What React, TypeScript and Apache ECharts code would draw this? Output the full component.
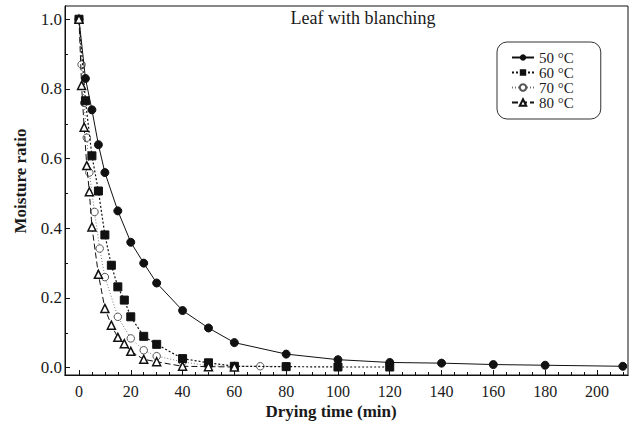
import React, { useEffect, useRef } from "react";
import * as echarts from "echarts";

const FONT = '"Liberation Serif", "Times New Roman", serif';

const seriesNames = ["50 °C", "60 °C", "70 °C", "80 °C"];

const times50 = [0, 2.5, 5, 7.5, 10, 15, 20, 25, 30, 40, 50, 60, 80, 100, 120, 140, 160, 180, 210];
const mr50 = [1.0, 0.83, 0.74, 0.64, 0.56, 0.45, 0.36, 0.3, 0.243, 0.164, 0.114, 0.072, 0.039, 0.023, 0.015, 0.013, 0.009, 0.007, 0.004];

const times60 = [0, 2.5, 5, 7.5, 10, 12.5, 15, 17.5, 20, 25, 30, 40, 50, 60, 80, 100, 120];
const mr60 = [1.0, 0.766, 0.608, 0.507, 0.381, 0.294, 0.232, 0.194, 0.146, 0.09, 0.067, 0.026, 0.014, 0.004, 0.003, 0.002, 0.002];

const times70 = [0, 1, 2, 3, 4, 6, 8, 10, 15, 20, 25, 30, 40, 50, 60, 70, 80];
const mr70 = [1.0, 0.87, 0.76, 0.66, 0.56, 0.447, 0.342, 0.26, 0.146, 0.084, 0.05, 0.033, 0.017, 0.005, 0.004, 0.004, 0.004];

const times80 = [0, 1, 2, 3, 4, 5, 7.5, 10, 12.5, 15, 17.5, 20, 25, 30, 40, 50, 60];
const mr80 = [1.0, 0.81, 0.69, 0.58, 0.505, 0.404, 0.268, 0.17, 0.122, 0.087, 0.069, 0.047, 0.024, 0.017, 0.004, 0.003, 0.002];

const xMajorTicks = [0, 20, 40, 60, 80, 100, 120, 140, 160, 180, 200];
const xMinorTicks = [5, 10, 15, 25, 30, 35, 45, 50, 55, 65, 70, 75, 85, 90, 95, 105, 110, 115, 125, 130, 135, 145, 150, 155, 165, 170, 175, 185, 190, 195, 205, 210];
const yMajorTicks = [0, 0.2, 0.4, 0.6, 0.8, 1.0];
const yMinorTicks = [0.1, 0.3, 0.5, 0.7, 0.9];

const titleText = "Leaf with blanching";
const xTitle = "Drying time (min)";
const yTitle = "Moisture ratio";

const zip = (t: number[], v: number[]) => t.map((x, i) => [x, v[i]]);

export default function App() {
  const ref = useRef<HTMLDivElement>(null);
  useEffect(() => {
    if (!ref.current) return;
    const chart = echarts.init(ref.current, undefined, { renderer: "svg" });
    const X_MIN = -5.4, X_MAX = 212, Y_MIN = -0.021, Y_MAX = 1.038;
    const axisCommon = {
      type: "value" as const,
      axisLine: { show: true, onZero: false, lineStyle: { color: "#111", width: 1 } },
      splitLine: { show: false },
    };
    chart.setOption({
      animation: false,
      backgroundColor: "#fff",
      textStyle: { fontFamily: FONT },
      grid: {
        left: 65, right: 2, top: 6, bottom: 46,
        show: true, borderColor: "#111", borderWidth: 1,
        containLabel: false, outerBoundsMode: "none",
      },
      xAxis: [
        {
          ...axisCommon, min: X_MIN, max: X_MAX, position: "bottom",
          axisTick: { show: true, inside: true, length: 5, customValues: xMajorTicks, lineStyle: { color: "#111" } },
          axisLabel: { show: true, customValues: xMajorTicks, margin: 8, color: "#1a1a1a", fontSize: 16, fontFamily: FONT, formatter: (v: number) => String(Math.round(v)) },
        },
        {
          ...axisCommon, min: X_MIN, max: X_MAX, position: "bottom",
          axisTick: { show: true, inside: true, length: 3, customValues: xMinorTicks, lineStyle: { color: "#111" } },
          axisLabel: { show: false },
        },
      ],
      yAxis: [
        {
          ...axisCommon, min: Y_MIN, max: Y_MAX, position: "left",
          axisTick: { show: true, inside: true, length: 5, customValues: yMajorTicks, lineStyle: { color: "#111" } },
          axisLabel: { show: true, customValues: yMajorTicks, margin: 3, color: "#1a1a1a", fontSize: 17, fontFamily: FONT, formatter: (v: number) => v.toFixed(1) },
        },
        {
          ...axisCommon, min: Y_MIN, max: Y_MAX, position: "left",
          axisTick: { show: true, inside: true, length: 3, customValues: yMinorTicks, lineStyle: { color: "#111" } },
          axisLabel: { show: false },
        },
      ],
      legend: {
        orient: "vertical",
        left: 497, top: 42,
        backgroundColor: "#fff",
        borderColor: "#333", borderWidth: 1, borderRadius: 10,
        padding: [8, 27, 9, 14],
        itemGap: 0, itemWidth: 22, itemHeight: 8,
        textStyle: { fontFamily: FONT, fontSize: 15, color: "#1a1a1a", lineHeight: 14 },
        data: seriesNames,
      },
      graphic: [
        { type: "text", x: 363, y: 18, style: { text: titleText, font: `18px ${FONT}`, fill: "#1a1a1a", align: "center", verticalAlign: "middle" } },
        { type: "text", x: 331, y: 411, style: { text: xTitle, font: `bold 17px ${FONT}`, fill: "#1a1a1a", align: "center", verticalAlign: "middle" } },
        { type: "text", x: 20, y: 181, rotation: Math.PI / 2, style: { text: yTitle, font: `bold 17px ${FONT}`, fill: "#1a1a1a", align: "center", verticalAlign: "middle" } },
      ],
      series: [
        {
          name: seriesNames[0], type: "line", data: zip(times50, mr50),
          symbol: "circle", symbolSize: 8, z: 5,
          lineStyle: { color: "#111", width: 1, type: "solid" },
          itemStyle: { color: "#111", borderColor: "#111" },
        },
        {
          name: seriesNames[1], type: "line", data: zip(times60, mr60),
          symbol: "rect", symbolSize: 8, z: 4,
          lineStyle: { color: "#111", width: 1.2, type: [2, 2] },
          itemStyle: { color: "#111", borderColor: "#111" },
        },
        {
          name: seriesNames[2], type: "line", data: zip(times70, mr70),
          symbol: "circle", symbolSize: 7.5, z: 3,
          lineStyle: { color: "#777", width: 1, type: [1, 2] },
          itemStyle: { color: "#fff", borderColor: "#555", borderWidth: 1 },
        },
        {
          name: seriesNames[3], type: "line", data: zip(times80, mr80),
          symbol: "triangle", symbolSize: 8, z: 6,
          lineStyle: { color: "#111", width: 1, type: [6, 3] },
          itemStyle: { color: "#fff", borderColor: "#111", borderWidth: 1.5 },
        },
      ],
    });
    return () => chart.dispose();
  }, []);
  return <div ref={ref} style={{ position: "fixed", left: 0, top: 0, width: 630, height: 421 }} />;
}
